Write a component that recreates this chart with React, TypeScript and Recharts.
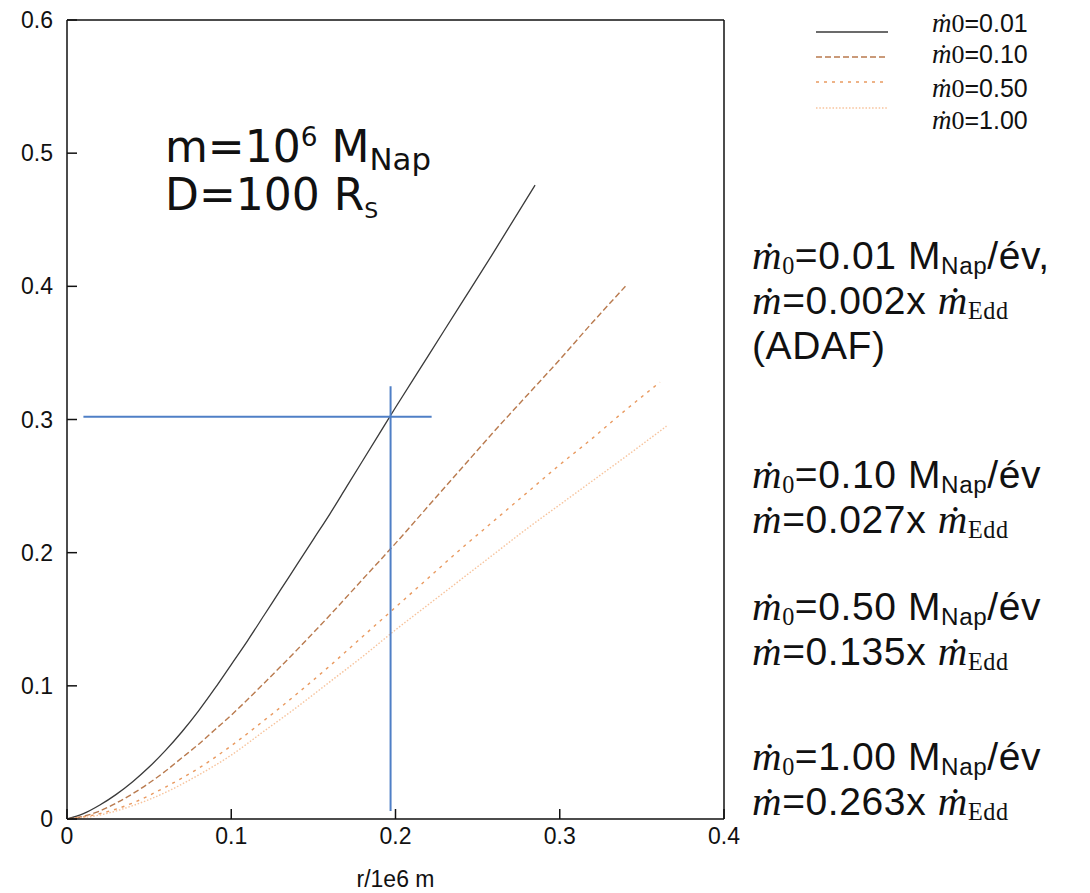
import React from 'react';
import { LineChart, Line, XAxis, YAxis, ReferenceLine, Legend } from 'recharts';

// Radius in units of 1e6 m, value on the vertical axis
const xTicks = [0, 0.1, 0.2, 0.3, 0.4];
const yTicks = [0, 0.1, 0.2, 0.3, 0.4, 0.5, 0.6];

// mdot0 = 0.01
const r001 = [0, 0.01, 0.02, 0.03, 0.04, 0.05, 0.06, 0.07, 0.08, 0.09, 0.1, 0.11, 0.12, 0.13, 0.14, 0.15, 0.16, 0.17, 0.18, 0.19, 0.2, 0.22, 0.24, 0.26, 0.285];
const v001 = [0, 0.004, 0.0105, 0.0185, 0.028, 0.039, 0.0515, 0.0655, 0.081, 0.098, 0.116, 0.134, 0.153, 0.172, 0.191, 0.21, 0.229, 0.249, 0.269, 0.289, 0.309, 0.348, 0.387, 0.426, 0.476];

// mdot0 = 0.10
const r010 = [0, 0.01, 0.02, 0.03, 0.04, 0.05, 0.06, 0.07, 0.08, 0.09, 0.1, 0.12, 0.14, 0.16, 0.18, 0.2, 0.22, 0.24, 0.26, 0.28, 0.3, 0.32, 0.34];
const v010 = [0, 0.002, 0.006, 0.012, 0.019, 0.027, 0.036, 0.046, 0.056, 0.067, 0.078, 0.102, 0.127, 0.153, 0.18, 0.207, 0.235, 0.263, 0.291, 0.318, 0.345, 0.373, 0.4];

// mdot0 = 0.50
const r050 = [0, 0.02, 0.04, 0.06, 0.08, 0.1, 0.12, 0.14, 0.16, 0.18, 0.2, 0.22, 0.24, 0.26, 0.28, 0.3, 0.32, 0.34, 0.361];
const v050 = [0, 0.004, 0.012, 0.024, 0.038, 0.055, 0.074, 0.094, 0.115, 0.137, 0.159, 0.181, 0.203, 0.224, 0.245, 0.266, 0.286, 0.307, 0.328];

// mdot0 = 1.00
const r100 = [0, 0.02, 0.04, 0.06, 0.08, 0.1, 0.12, 0.14, 0.16, 0.18, 0.2, 0.22, 0.24, 0.26, 0.28, 0.3, 0.32, 0.34, 0.365];
const v100 = [0, 0.003, 0.01, 0.02, 0.033, 0.048, 0.066, 0.084, 0.103, 0.122, 0.142, 0.161, 0.18, 0.199, 0.218, 0.236, 0.254, 0.272, 0.295];

const seriesNames = ['0.01', '0.10', '0.50', '1.00'];

// Blue crosshair marking r ≈ 0.197 at value 0.302
const crossH = [{ x: 0.01, y: 0.302 }, { x: 0.222, y: 0.302 }];
const crossV = [{ x: 0.197, y: 0.006 }, { x: 0.197, y: 0.325 }];

const zip = (xs: number[], ys: number[]) => xs.map((x, i) => ({ r: x, v: ys[i] }));

const series = [
  { name: seriesNames[0], data: zip(r001, v001), color: '#3a3a3a', dash: undefined as string | undefined, width: 1.3 },
  { name: seriesNames[1], data: zip(r010, v010), color: '#b97a4e', dash: '6 3', width: 1.4 },
  { name: seriesNames[2], data: zip(r050, v050), color: '#e99a60', dash: '3 5', width: 1.4 },
  { name: seriesNames[3], data: zip(r100, v100), color: '#f7c39c', dash: '1.5 1.8', width: 1.4 },
];

const SANS = '"Liberation Sans", Arial, Helvetica, sans-serif';
const SERIF = '"Liberation Serif", "DejaVu Serif", serif';
const TICK_FONT = 23;

const MDot = ({ size = '1.05em' }: { size?: string }) => (
  <span style={{ fontFamily: SERIF, fontStyle: 'italic', fontSize: size }}>ṁ</span>
);

const Sub = ({ children, serif }: { children: React.ReactNode; serif?: boolean }) => (
  <span
    style={{
      fontSize: '0.62em',
      position: 'relative',
      top: '0.22em',
      fontFamily: serif ? SERIF : SANS,
    }}
  >
    {children}
  </span>
);

const legendRows = [23, 54, 88, 120];
const legendLines = [32, 57, 82, 108];

const renderLegend = (props: any) => {
  const payload = props.payload || [];
  return (
    <div style={{ position: 'relative', width: 290, height: 140 }}>
      <svg width={290} height={140} style={{ position: 'absolute', left: 0, top: 0 }}>
        {series.map((s, i) => {
          const entry = payload[i];
          const color = (entry && entry.color) || s.color;
          return (
            <line
              key={s.name}
              x1={16}
              x2={88}
              y1={legendLines[i]}
              y2={legendLines[i]}
              stroke={color}
              strokeWidth={1.4}
              strokeDasharray={s.dash}
            />
          );
        })}
      </svg>
      {series.map((s, i) => {
        const entry = payload[i];
        const label = (entry && entry.value) || s.name;
        return (
          <div
            key={s.name}
            style={{
              position: 'absolute',
              left: 132,
              top: legendRows[i] - 14,
              height: 28,
              lineHeight: '28px',
              fontFamily: SANS,
              fontSize: 25,
              color: '#111',
              whiteSpace: 'nowrap',
            }}
          >
            <MDot size="1.08em" />
            <span style={{ fontFamily: SERIF, fontSize: '1.04em' }}>0</span>={label}
          </div>
        );
      })}
    </div>
  );
};

const lineStyle: React.CSSProperties = { height: 45, lineHeight: '45px', whiteSpace: 'nowrap' };

const RateBlock = ({ top, m0, ratio, extra }: { top: number; m0: string; ratio: string; extra?: string }) => (
  <div
    style={{
      position: 'absolute',
      left: 752,
      top,
      fontFamily: SANS,
      fontSize: 39,
      letterSpacing: 0.6,
      color: '#111',
    }}
  >
    <div style={lineStyle}>
      <MDot />
      <Sub serif>0</Sub>={m0} M<Sub>Nap</Sub>/év{extra ? ',' : ''}
    </div>
    <div style={lineStyle}>
      <MDot />={ratio}x <MDot />
      <Sub serif>Edd</Sub>
    </div>
    {extra ? <div style={lineStyle}>{extra}</div> : null}
  </div>
);

const tickStyle = { fill: '#111', fontSize: TICK_FONT, fontFamily: SANS };

export default function App() {
  return (
    <div style={{ position: 'absolute', left: 0, top: 0, width: 1090, height: 893, background: '#fff' }}>
      <LineChart
        width={1090}
        height={893}
        margin={{ top: 10, right: 356, bottom: 0, left: 0 }}
        style={{ fontFamily: SANS }}
      >
        <XAxis
          xAxisId="b"
          dataKey="r"
          type="number"
          domain={[0, 0.4]}
          ticks={xTicks}
          allowDataOverflow
          height={74}
          tickSize={-10}
          tickMargin={19}
          fontSize={TICK_FONT}
          axisLine={{ stroke: '#111', strokeWidth: 1.5 }}
          tickLine={{ stroke: '#111', strokeWidth: 1.5 }}
          tick={tickStyle}
          label={{ value: 'r/1e6 m', position: 'insideBottom', offset: 6, fill: '#111', fontSize: TICK_FONT, fontFamily: SANS }}
        />
        <XAxis
          xAxisId="t"
          orientation="top"
          dataKey="r"
          type="number"
          domain={[0, 0.4]}
          ticks={xTicks}
          height={10}
          tickSize={-10}
          tick={false}
          axisLine={{ stroke: '#111', strokeWidth: 1.5 }}
          tickLine={{ stroke: '#111', strokeWidth: 1.5 }}
        />
        <YAxis
          yAxisId="l"
          type="number"
          domain={[0, 0.6]}
          ticks={yTicks}
          width={67}
          tickSize={-10}
          tickMargin={24}
          fontSize={TICK_FONT}
          axisLine={{ stroke: '#111', strokeWidth: 1.5 }}
          tickLine={{ stroke: '#111', strokeWidth: 1.5 }}
          tick={tickStyle}
        />
        <YAxis
          yAxisId="rt"
          orientation="right"
          type="number"
          domain={[0, 0.6]}
          ticks={yTicks}
          width={10}
          tickSize={-10}
          tick={false}
          axisLine={{ stroke: '#111', strokeWidth: 1.5 }}
          tickLine={{ stroke: '#111', strokeWidth: 1.5 }}
        />
        {series.map((s) => (
          <Line
            key={s.name}
            xAxisId="b"
            yAxisId="l"
            data={s.data}
            dataKey="v"
            name={s.name}
            type="monotone"
            stroke={s.color}
            strokeWidth={s.width}
            strokeDasharray={s.dash}
            dot={false}
            activeDot={false}
            isAnimationActive={false}
          />
        ))}
        <ReferenceLine xAxisId="b" yAxisId="l" segment={crossH} stroke="#4f7fc6" strokeWidth={2} ifOverflow="visible" />
        <ReferenceLine xAxisId="b" yAxisId="l" segment={crossV} stroke="#4f7fc6" strokeWidth={2} ifOverflow="visible" />
        <Legend
          layout="vertical"
          align="center"
          verticalAlign="middle"
          content={renderLegend}
          wrapperStyle={{ position: 'absolute', left: 800, top: 0, width: 290, height: 140 }}
        />
      </LineChart>

      <div
        style={{
          position: 'absolute',
          left: 165,
          top: 123,
          fontFamily: '"DejaVu Sans", sans-serif',
          fontSize: 44,
          color: '#111',
        }}
      >
        <div style={{ height: 48, lineHeight: '48px', whiteSpace: 'nowrap' }}>
          m=10<span style={{ fontSize: '0.6em', position: 'relative', top: '-0.6em' }}>6</span> M
          <span style={{ fontSize: '0.7em', position: 'relative', top: '0.25em' }}>Nap</span>
        </div>
        <div style={{ height: 48, lineHeight: '48px', whiteSpace: 'nowrap' }}>
          D=100 R<span style={{ fontSize: '0.5em', position: 'relative', top: '0.35em' }}>S</span>
        </div>
      </div>

      <RateBlock top={233} m0="0.01" ratio="0.002" extra="(ADAF)" />
      <RateBlock top={452} m0="0.10" ratio="0.027" />
      <RateBlock top={584} m0="0.50" ratio="0.135" />
      <RateBlock top={734} m0="1.00" ratio="0.263" />
    </div>
  );
}
